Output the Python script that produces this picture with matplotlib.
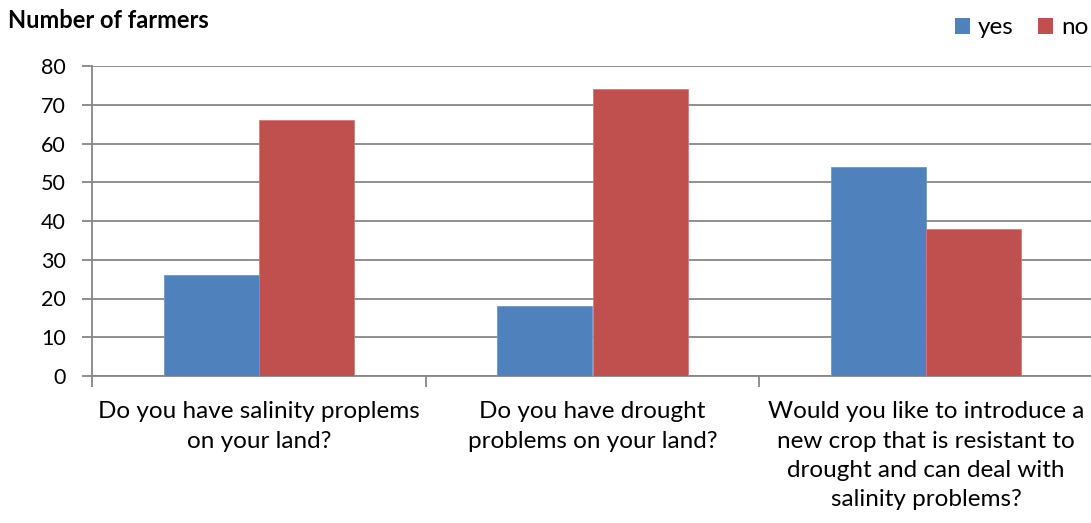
import numpy as np
import matplotlib
matplotlib.use("Agg")
import matplotlib.pyplot as plt
from matplotlib.patches import Patch

plt.rcParams['font.family'] = ['Lato', 'DejaVu Sans']

categories = [
    "Do you have salinity proplems\non your land?",
    "Do you have drought\nproblems on your land?",
    "Would you like to introduce a\nnew crop that is resistant to\ndrought and can deal with\nsalinity problems?",
]
yes_values = [26, 18, 54]
no_values = [66, 74, 38]
series_names = ["yes", "no"]
yticks = [0, 10, 20, 30, 40, 50, 60, 70, 80]

blue = "#4F81BD"
red = "#C0504D"
grid_gray = "#868686"

fig = plt.figure(figsize=(10.91, 5.23), dpi=100)
ax = fig.add_axes([92 / 1091, 1 - 376 / 523, 1001 / 1091, 310 / 523])

x = np.arange(len(categories))
w = 0.285
ax.bar(x - w / 2, yes_values, w, color=blue, edgecolor="#6C97CC", linewidth=0.6, zorder=3)
ax.bar(x + w / 2, no_values, w, color=red, edgecolor="#D07B78", linewidth=0.6, zorder=3)

ax.set_xlim(-0.5, len(categories) - 0.5)
ax.set_ylim(0, 80)
ax.set_yticks(yticks)
ax.set_yticklabels([str(v) for v in yticks], fontsize=15.5, color="black")
ax.yaxis.grid(True, color=grid_gray, linewidth=1.3, zorder=0)
ax.set_axisbelow(True)

# Category boundary ticks on the x axis; labels placed at category centres
ax.set_xticks(np.arange(-0.5, len(categories), 1.0))
ax.set_xticklabels([])
ax.set_xticks(x, minor=True)
ax.set_xticklabels(categories, minor=True, fontsize=17.5, linespacing=1.5, va="top")
ax.tick_params(axis="x", which="minor", length=0, pad=18)
ax.tick_params(axis="x", which="major", length=8, width=1.3, color=grid_gray, direction="out")
ax.tick_params(axis="y", length=7, width=1.3, color=grid_gray, direction="out", pad=12)

for side in ("top", "right"):
    ax.spines[side].set_visible(False)
for side in ("left", "bottom"):
    ax.spines[side].set_color(grid_gray)
    ax.spines[side].set_linewidth(1.3)

fig.text(8 / 1091, 1 - 20 / 523, "Number of farmers", fontsize=17, fontweight="bold",
         va="center", ha="left")

handles = [Patch(facecolor=blue), Patch(facecolor=red)]
fig.legend(handles, series_names, loc="center right", bbox_to_anchor=(1.0, 1 - 28 / 523),
           ncol=2, frameon=False, fontsize=17.5, handlelength=0.6, handleheight=0.6,
           handletextpad=0.35, columnspacing=1.0, borderaxespad=0, borderpad=0.1)

fig.savefig("out.png", dpi=100)
